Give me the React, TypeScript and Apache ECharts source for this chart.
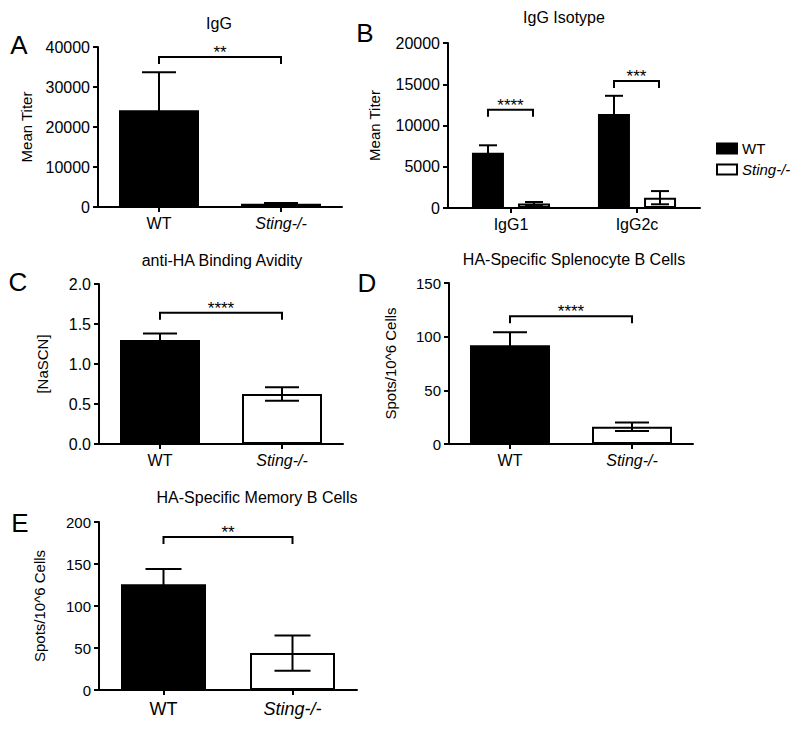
import React, { useEffect, useRef } from 'react';
import * as echarts from 'echarts';

const FONT = '"Liberation Sans", Arial, sans-serif';

const groups = ['WT', 'Sting-/-'];
const isotypes = ['IgG1', 'IgG2c'];

// Panel A: IgG
const iggMean = [24200, 800];
const iggErr = [9500, 200];

// Panel B: IgG isotype
const isoWtMean = [6700, 11400];
const isoWtErr = [900, 2200];
const isoStingMean = [550, 1250];
const isoStingErr = [180, 800];

// Panel C: avidity
const avidityMean = [1.3, 0.625];
const avidityErr = [0.08, 0.085];

// Panel D: splenocyte B cells
const splenoMean = [92, 16];
const splenoErr = [12, 4];

// Panel E: memory B cells
const memoryMean = [126, 44];
const memoryErr = [18, 21];

// significance: [stars, bracket height]
const iggSig: [string, number] = ['**', 37500];
const isoSig: [string, number][] = [['****', 11900], ['***', 15400]];
const aviditySig: [string, number] = ['****', 1.64];
const splenoSig: [string, number] = ['****', 119];
const memorySig: [string, number] = ['**', 182];

// y-axis ranges [min, max, step]
const iggAxis = [0, 40000, 10000];
const isoAxis = [0, 20000, 5000];
const avidityAxis = [0, 2, 0.5];
const splenoAxis = [0, 150, 50];
const memoryAxis = [0, 200, 50];

const panelTitles = ['IgG', 'IgG Isotype', 'anti-HA Binding Avidity', 'HA-Specific Splenocyte B Cells', 'HA-Specific Memory B Cells'];
const panelLetters = ['A', 'B', 'C', 'D', 'E'];
const axisNames = ['Mean Titer', 'Mean Titer', '[NaSCN]', 'Spots/10^6 Cells', 'Spots/10^6 Cells'];

const grids = [
  { left: 98, top: 47, width: 244, height: 160 },
  { left: 448, top: 43, width: 252, height: 165 },
  { left: 99, top: 284, width: 244, height: 160 },
  { left: 449, top: 283, width: 244, height: 161 },
  { left: 99, top: 522, width: 258, height: 168 },
];
const titlePos = [[219, 23], [564, 17], [222, 260], [574, 259], [257, 497]];
const letterPos = [[19, 45], [365, 33], [18, 282], [367, 283], [20, 523]];
const nameGaps = [64, 66, 49, 51, 52];
const tickFont = [16, 16, 16, 15, 15];

function textStyle(text: string, size: number, align = 'center', vAlign = 'middle', italic = false) {
  return {
    text,
    fill: '#000',
    font: `${italic ? 'italic ' : ''}${size}px ${FONT}`,
    align,
    verticalAlign: vAlign,
    textAlign: align,
    textVerticalAlign: vAlign,
  };
}

function errorBars(idx: number, cats: string[], means: number[], errs: number[], dx: number, cap: number) {
  return {
    type: 'custom',
    xAxisIndex: idx,
    yAxisIndex: idx,
    z: 10,
    silent: true,
    encode: { x: 0, y: 1 },
    data: cats.map((c, i) => [c, means[i], errs[i]]),
    renderItem: (_params: any, api: any) => {
      const x = api.value(0);
      const m = api.value(1);
      const e = api.value(2);
      const hi = api.coord([x, m + e]);
      const lo = api.coord([x, m - e]);
      const cx = hi[0] + dx;
      const st = { stroke: '#000', lineWidth: 2 };
      return {
        type: 'group',
        children: [
          { type: 'line', shape: { x1: cx, y1: lo[1], x2: cx, y2: hi[1] }, style: st },
          { type: 'line', shape: { x1: cx - cap, y1: hi[1], x2: cx + cap, y2: hi[1] }, style: st },
          { type: 'line', shape: { x1: cx - cap, y1: lo[1], x2: cx + cap, y2: lo[1] }, style: st },
        ],
      };
    },
  };
}

// items: [catIndexA, catIndexB, height, stars, dxA, dxB]
function brackets(idx: number, items: [number, number, number, string, number, number][]) {
  return {
    type: 'custom',
    xAxisIndex: idx,
    yAxisIndex: idx,
    z: 10,
    silent: true,
    encode: { x: 0, y: 2 },
    data: items.map((it) => [it[0], it[1], it[2]]),
    renderItem: (params: any, api: any) => {
      const it = items[params.dataIndex];
      const a = api.coord([api.value(0), api.value(2)]);
      const b = api.coord([api.value(1), api.value(2)]);
      const x0 = a[0] + it[4];
      const x1 = b[0] + it[5];
      const y = a[1];
      return {
        type: 'group',
        children: [
          {
            type: 'polyline',
            shape: { points: [[x0, y + 7], [x0, y], [x1, y], [x1, y + 7]] },
            style: { stroke: '#000', lineWidth: 2, fill: null },
          },
          { type: 'text', x: (x0 + x1) / 2, y: y + 4, style: textStyle(it[3], 17, 'center', 'bottom') },
        ],
      };
    },
  };
}

function xAxis(idx: number, cats: string[], size: number, margin: number) {
  return {
    gridIndex: idx,
    type: 'category',
    data: cats,
    axisLine: { show: true, lineStyle: { color: '#000', width: 2 } },
    axisTick: { show: true, alignWithLabel: true, length: 5, lineStyle: { color: '#000', width: 2 } },
    axisLabel: {
      color: '#000',
      fontSize: size,
      margin,
      interval: 0,
      formatter: (v: string) => (v === 'Sting-/-' ? '{i|Sting-/-}' : v),
      rich: { i: { fontStyle: 'italic', fontSize: size, color: '#000', fontFamily: FONT } },
    },
    splitLine: { show: false },
  };
}

function yAxis(idx: number, range: number[], decimals: number) {
  return {
    gridIndex: idx,
    type: 'value',
    min: range[0],
    max: range[1],
    interval: range[2],
    name: axisNames[idx],
    nameLocation: 'middle',
    nameGap: nameGaps[idx],
    nameTextStyle: { color: '#000', fontSize: 15, fontFamily: FONT },
    axisLine: { show: true, lineStyle: { color: '#000', width: 2 } },
    axisTick: { show: true, length: 5, lineStyle: { color: '#000', width: 2 } },
    axisLabel: {
      color: '#000',
      fontSize: tickFont[idx],
      margin: 8,
      formatter: (v: number) => v.toFixed(decimals),
    },
    splitLine: { show: false },
  };
}

function singleBars(idx: number, name: string, means: number[], width: number) {
  return {
    type: 'bar',
    name,
    xAxisIndex: idx,
    yAxisIndex: idx,
    barWidth: width,
    silent: true,
    itemStyle: { borderColor: '#000', borderWidth: 2 },
    data: means.map((v, i) => ({ value: v, itemStyle: { color: i === 0 ? '#000' : '#fff' } })),
  };
}

export default function App() {
  const ref = useRef<HTMLDivElement>(null);

  useEffect(() => {
    if (!ref.current) return;
    const chart = echarts.init(ref.current, null, { renderer: 'svg' });

    const graphics: any[] = [];
    panelTitles.forEach((t, i) => {
      graphics.push({ type: 'text', x: titlePos[i][0], y: titlePos[i][1], style: textStyle(t, 16) });
    });
    panelLetters.forEach((t, i) => {
      graphics.push({ type: 'text', x: letterPos[i][0], y: letterPos[i][1], style: textStyle(t, 26) });
    });

    const option: any = {
      animation: false,
      backgroundColor: '#fff',
      textStyle: { fontFamily: FONT },
      grid: grids.map((g) => ({ ...g })),
      xAxis: [
        xAxis(0, groups, 16, 8),
        xAxis(1, isotypes, 16, 8),
        xAxis(2, groups, 16, 8),
        xAxis(3, groups, 16, 8),
        xAxis(4, groups, 18, 10),
      ],
      yAxis: [
        yAxis(0, iggAxis, 0),
        yAxis(1, isoAxis, 0),
        yAxis(2, avidityAxis, 1),
        yAxis(3, splenoAxis, 0),
        yAxis(4, memoryAxis, 0),
      ],
      legend: {
        data: [{ name: 'WT' }, { name: 'Sting-/-', textStyle: { fontStyle: 'italic' } }],
        left: 716,
        top: 141,
        orient: 'vertical',
        itemWidth: 20,
        itemHeight: 10,
        itemGap: 6,
        padding: 0,
        icon: 'rect',
        selectedMode: false,
        textStyle: { fontSize: 15, color: '#000', fontFamily: FONT },
      },
      graphic: graphics,
      series: [
        singleBars(0, 'IgG', iggMean, 80),
        errorBars(0, groups, iggMean, iggErr, 0, 17),
        brackets(0, [[0, 1, iggSig[1], iggSig[0], 0, 0]]),

        {
          type: 'bar',
          name: 'WT',
          xAxisIndex: 1,
          yAxisIndex: 1,
          barWidth: 32,
          barGap: '44%',
          silent: true,
          itemStyle: { color: '#000', borderColor: '#000', borderWidth: 2 },
          data: isoWtMean,
        },
        {
          type: 'bar',
          name: 'Sting-/-',
          xAxisIndex: 1,
          yAxisIndex: 1,
          barWidth: 32,
          barGap: '44%',
          silent: true,
          itemStyle: { color: '#fff', borderColor: '#000', borderWidth: 2 },
          data: isoStingMean,
        },
        errorBars(1, isotypes, isoWtMean, isoWtErr, -23, 9),
        errorBars(1, isotypes, isoStingMean, isoStingErr, 23, 9),
        brackets(1, [
          [0, 0, isoSig[0][1], isoSig[0][0], -23, 22],
          [1, 1, isoSig[1][1], isoSig[1][0], -23, 22],
        ]),

        singleBars(2, 'Avidity', avidityMean, 80),
        errorBars(2, groups, avidityMean, avidityErr, 0, 17),
        brackets(2, [[0, 1, aviditySig[1], aviditySig[0], 0, 0]]),

        singleBars(3, 'Splenocyte', splenoMean, 80),
        errorBars(3, groups, splenoMean, splenoErr, 0, 17),
        brackets(3, [[0, 1, splenoSig[1], splenoSig[0], 0, 0]]),

        singleBars(4, 'Memory', memoryMean, 85),
        errorBars(4, groups, memoryMean, memoryErr, 0, 18),
        brackets(4, [[0, 1, memorySig[1], memorySig[0], 0, 0]]),
      ],
    };

    chart.setOption(option);
    return () => chart.dispose();
  }, []);

  return (
    <div
      ref={ref}
      style={{ position: 'fixed', left: 0, top: 0, width: 800, height: 730, background: '#fff' }}
    />
  );
}
